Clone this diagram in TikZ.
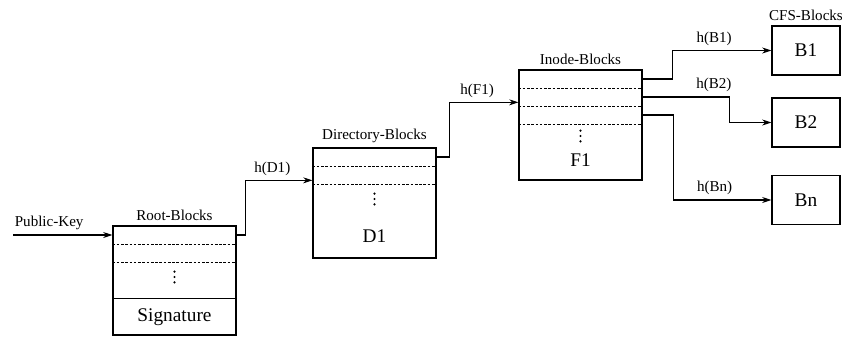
\documentclass[tikz,border=0pt]{standalone}
\usepackage{fontspec}
\setmainfont{Liberation Serif}
\usetikzlibrary{arrows.meta}
\tikzset{
  frame/.style={draw, minimum width=123*0.75pt, inner sep=0pt},
  row/.style={minimum width=123*0.75pt, minimum height=18*0.75pt, inner sep=0pt},
  cfs/.style={draw, minimum width=68*0.75pt, minimum height=49*0.75pt, big},
  big/.style={font=\fontsize{14.5}{17}\selectfont},
  sep/.style={dash pattern=on 2pt off 1.2pt, line width=0.6pt},
}
\begin{document}
\begin{tikzpicture}[x=0.75pt, y=-0.75pt, line width=0.8pt,
    font=\fontsize{11.3}{13}\selectfont, >={Stealth[length=7pt, width=4.5pt]}]
    \useasboundingbox (0,0) rectangle (842,336);

    % block tables
    \node[frame, minimum height=109*0.75pt, label=above:Root-Blocks] (root) at (174.5,280.5) {};
    \node[frame, minimum height=110*0.75pt, label=above:Directory-Blocks] (dir) at (374.5,203) {};
    \node[frame, minimum height=110*0.75pt, label=above:Inode-Blocks] (inode) at (580.5,125) {};
    \foreach \b/\k in {root/2, dir/2, inode/3} {
        \foreach \i in {1,...,\k} {
            \node[row, anchor=north] (\b-\i) at ([yshift={-(\i-1)*13.5pt}]\b.north) {};
            \draw[sep] (\b-\i.south west) -- (\b-\i.south east);
          }
      }
    \node[row, big, anchor=south, minimum height=36*0.75pt] (root-sig) at (root.south) {Signature};
    \draw (root-sig.north west) -- (root-sig.north east);
    \node[big] (dir-name) at (374.5,236) {D1};
    \node[big] (inode-name) at (580.5,160) {F1};

    % vertical dots
    \coordinate (root-dots) at (174.5,277);
    \coordinate (dir-dots) at (374.5,199);
    \coordinate (inode-dots) at (580.5,136);
    \foreach \b in {root, dir, inode} {
        \foreach \d in {-4,0,4} {
            \fill ([yshift=\d pt]\b-dots) circle (0.9pt);
          }
      }

    % content blocks
    \node[cfs, label=above:CFS-Blocks] (b1) at (806,50.5) {B1};
    \node[cfs] (b2) at (806,122.5) {B2};
    \node[cfs] (bn) at (806,200) {Bn};

    % hash pointers
    \coordinate (key) at (13,235);
    \draw[->] (key) -- node[pos=0, anchor=south west, inner xsep=1pt] {Public-Key} (root-1.west);
    \draw[->] (root-1.east) -- ++(9,0) |- ([yshift=-4pt]dir-2.west) node[pos=.7, above] {h(D1)};
    \draw[->] (dir-1.east) -- ++(13,0) |- ([yshift=-4pt]inode-2.west) node[pos=.7, above] {h(F1)};
    \draw[->] (inode-1.east) -- ++(30,0) |- (b1.west) node[pos=.71, above] {h(B1)};
    \draw[->] (inode-2.east) -- ++(87,0) node[pos=.82, above] {h(B2)} |- (b2.west);
    \draw[->] (inode-3.east) -- ++(31,0) |- (bn.west) node[pos=.71, above] {h(Bn)};
  \end{tikzpicture}
\end{document}
